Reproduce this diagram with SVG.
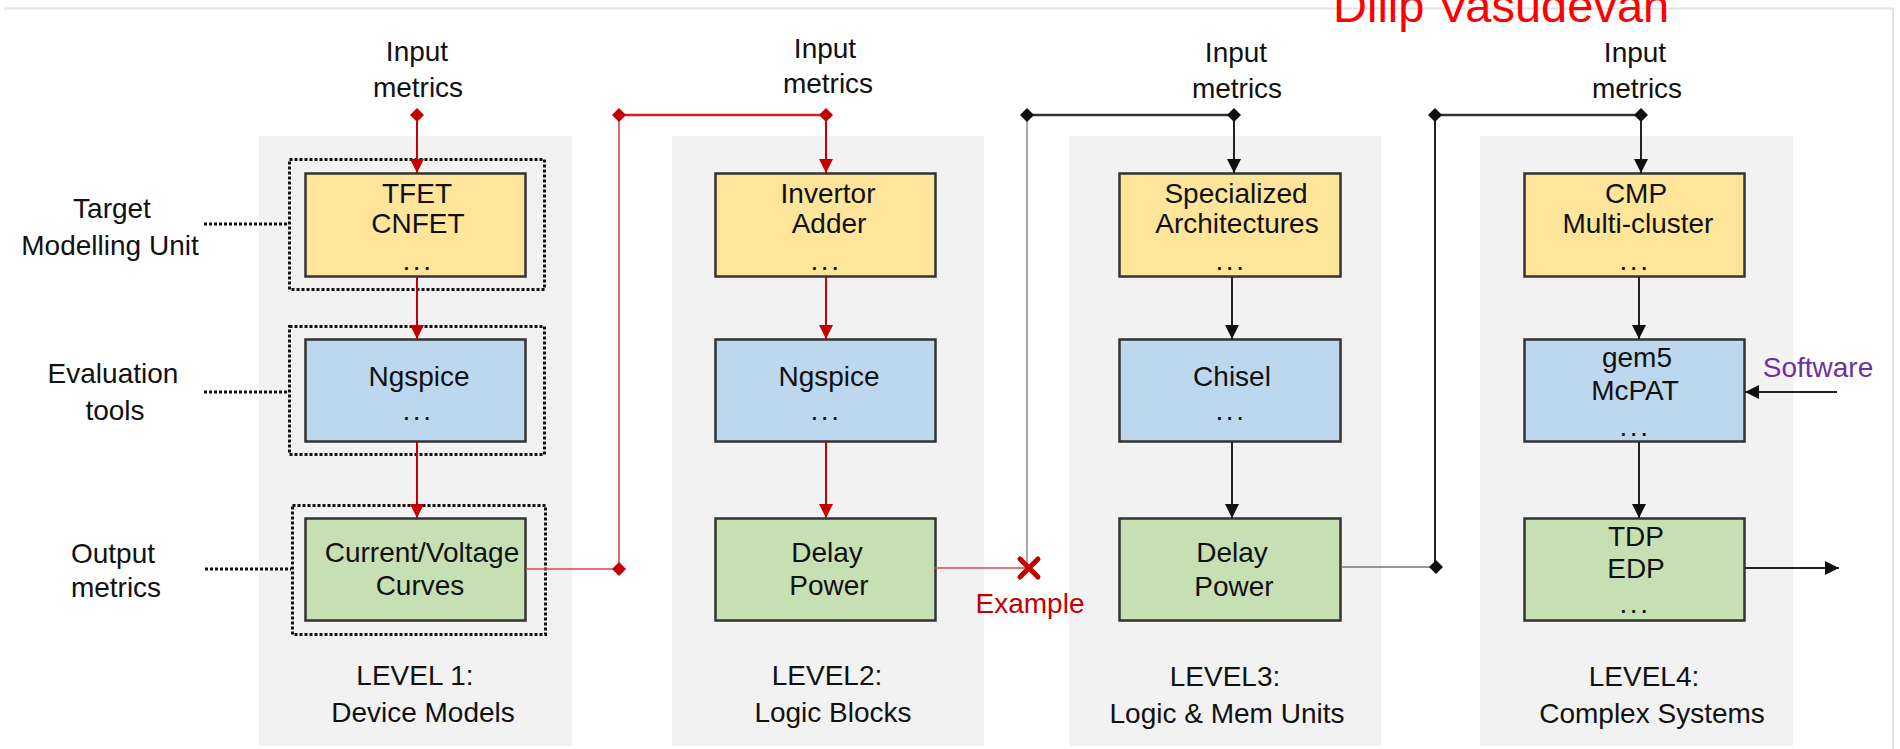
<svg xmlns="http://www.w3.org/2000/svg" xmlns:xlink="http://www.w3.org/1999/xlink" width="1900" height="749" viewBox="0 0 1900 749">
  <style>
    text { font-family: "Liberation Sans", Arial, Helvetica, sans-serif; font-size: 28px; fill: #111; text-anchor: middle; }
    .panel { fill: #f2f2f2; }
    .box { stroke: #333; stroke-width: 2.5; }
    .yellow { fill: #fee59a; }
    .blue { fill: #bdd7ee; }
    .green { fill: #c6e0b4; }
    .dotted { fill: none; stroke: #111; stroke-width: 3; stroke-dasharray: 3 2; }
    .dots { letter-spacing: 2.6px; }
    .red { stroke: #c40000; stroke-width: 2; fill: none; }
    .redthin { stroke: #d84a4a; stroke-width: 1.6; fill: none; }
    .blk { stroke: #222; stroke-width: 2; fill: none; }
    .gray { stroke: #aaa; stroke-width: 2; fill: none; }
    .graythin { stroke: #777; stroke-width: 1.6; fill: none; }
    .frame { stroke: #e4e4e4; stroke-width: 2; fill: none; }
  </style>
  <defs>
    <marker id="arrowRed" viewBox="0 0 10 10" refX="10" refY="5" markerWidth="14" markerHeight="14" markerUnits="userSpaceOnUse" orient="auto">
      <path d="M0,0 L10,5 L0,10 z" fill="#c40000"/>
    </marker>
    <marker id="arrowBlk" viewBox="0 0 10 10" refX="10" refY="5" markerWidth="14" markerHeight="14" markerUnits="userSpaceOnUse" orient="auto">
      <path d="M0,0 L10,5 L0,10 z" fill="#111"/>
    </marker>
    <path id="diamond" d="M-7,0 L0,-7 L7,0 L0,7 z"/>
  </defs>

  <rect width="1900" height="749" fill="#fff"/>
  <!-- page frame -->
  <path class="frame" d="M4,8.5 H1893 V749"/>

  <!-- level panels -->
  <g id="panel-level1"><rect class="panel" x="259" y="136" width="313" height="610"/></g>
  <g id="panel-level2"><rect class="panel" x="672" y="136" width="312" height="610"/></g>
  <g id="panel-level3"><rect class="panel" x="1069" y="136" width="312" height="610"/></g>
  <g id="panel-level4"><rect class="panel" x="1480" y="136" width="313" height="610"/></g>

  <!-- row labels -->
  <g id="label-target">
    <text x="112" y="218">Target</text>
    <text x="110" y="255">Modelling Unit</text>
  </g>
  <g id="label-evaluation">
    <text x="113" y="383">Evaluation</text>
    <text x="115" y="420">tools</text>
  </g>
  <g id="label-output">
    <text x="113" y="563">Output</text>
    <text x="116" y="597">metrics</text>
  </g>

  <!-- input metrics labels -->
  <g id="input-level1"><text x="417" y="61">Input</text><text x="418" y="97">metrics</text></g>
  <g id="input-level2"><text x="825" y="58">Input</text><text x="828" y="93">metrics</text></g>
  <g id="input-level3"><text x="1236" y="62">Input</text><text x="1237" y="98">metrics</text></g>
  <g id="input-level4"><text x="1635" y="62">Input</text><text x="1637" y="98">metrics</text></g>

  <!-- dotted groupings for level 1 -->
  <g id="groupings">
    <rect class="dotted" x="289.5" y="159.5" width="255" height="130"/>
    <rect class="dotted" x="289.5" y="326.5" width="255" height="128"/>
    <rect class="dotted" x="292.5" y="505.5" width="253" height="129"/>
    <path class="dotted" d="M204,224 H288 M204,392 H288 M205,569 H291"/>
  </g>

  <!-- LEVEL 1 -->
  <g id="l1-unit">
    <rect class="box yellow" x="305.5" y="173.5" width="220" height="103"/>
    <text x="417" y="203">TFET</text>
    <text x="418" y="233">CNFET</text>
    <text class="dots" x="418" y="270">...</text>
  </g>
  <g id="l1-tools">
    <rect class="box blue" x="305.5" y="339.5" width="220" height="102"/>
    <text x="419" y="386">Ngspice</text>
    <text class="dots" x="418" y="420">...</text>
  </g>
  <g id="l1-output">
    <rect class="box green" x="305.5" y="518.5" width="220" height="102"/>
    <text x="422" y="562">Current/Voltage</text>
    <text x="420" y="595">Curves</text>
  </g>
  <g id="l1-title">
    <text x="415" y="685">LEVEL 1:</text>
    <text x="423" y="722">Device Models</text>
  </g>

  <!-- LEVEL 2 -->
  <g id="l2-unit">
    <rect class="box yellow" x="715.5" y="173.5" width="220" height="103"/>
    <text x="828" y="203">Invertor</text>
    <text x="829" y="233">Adder</text>
    <text class="dots" x="826" y="270">...</text>
  </g>
  <g id="l2-tools">
    <rect class="box blue" x="715.5" y="339.5" width="220" height="102"/>
    <text x="829" y="386">Ngspice</text>
    <text class="dots" x="826" y="420">...</text>
  </g>
  <g id="l2-output">
    <rect class="box green" x="715.5" y="518.5" width="220" height="102"/>
    <text x="827" y="562">Delay</text>
    <text x="829" y="595">Power</text>
  </g>
  <g id="l2-title">
    <text x="827" y="685">LEVEL2:</text>
    <text x="833" y="722">Logic Blocks</text>
  </g>

  <!-- LEVEL 3 -->
  <g id="l3-unit">
    <rect class="box yellow" x="1119.5" y="173.5" width="221" height="103"/>
    <text x="1236" y="203">Specialized</text>
    <text x="1237" y="233">Architectures</text>
    <text class="dots" x="1231" y="270">...</text>
  </g>
  <g id="l3-tools">
    <rect class="box blue" x="1119.5" y="339.5" width="221" height="102"/>
    <text x="1232" y="386">Chisel</text>
    <text class="dots" x="1231" y="420">...</text>
  </g>
  <g id="l3-output">
    <rect class="box green" x="1119.5" y="518.5" width="221" height="102"/>
    <text x="1232" y="562">Delay</text>
    <text x="1234" y="596">Power</text>
  </g>
  <g id="l3-title">
    <text x="1225" y="686">LEVEL3:</text>
    <text x="1227" y="723">Logic &amp; Mem Units</text>
  </g>

  <!-- LEVEL 4 -->
  <g id="l4-unit">
    <rect class="box yellow" x="1524.5" y="173.5" width="220" height="103"/>
    <text x="1636" y="203">CMP</text>
    <text x="1638" y="233">Multi-cluster</text>
    <text class="dots" x="1635" y="270">...</text>
  </g>
  <g id="l4-tools">
    <rect class="box blue" x="1524.5" y="339.5" width="220" height="102"/>
    <text x="1637" y="367">gem5</text>
    <text x="1635" y="400">McPAT</text>
    <text class="dots" x="1635" y="436">...</text>
  </g>
  <g id="l4-output">
    <rect class="box green" x="1524.5" y="518.5" width="220" height="102"/>
    <text x="1636" y="546">TDP</text>
    <text x="1636" y="578">EDP</text>
    <text class="dots" x="1635" y="613">...</text>
  </g>
  <g id="l4-title">
    <text x="1644" y="686">LEVEL4:</text>
    <text x="1652" y="723">Complex Systems</text>
  </g>

  <!-- side labels -->
  <g id="software"><text x="1818" y="377" style="fill:#7030a0">Software</text></g>
  <g id="example"><text x="1030" y="613" style="fill:#c40000">Example</text></g>
  <g id="author"><text x="1333" y="22" style="fill:#ff0000;font-size:47px;text-anchor:start">Dilip Vasudevan</text></g>

  <!-- connectors -->
  <g id="connectors">
    <!-- level 1 chain -->
    <path class="red" d="M417,115 V173" marker-end="url(#arrowRed)"/>
    <path class="red" d="M417,277 V339" marker-end="url(#arrowRed)"/>
    <path class="red" d="M417,442 V518" marker-end="url(#arrowRed)"/>
    <!-- level 1 output feeds level 2 input -->
    <path class="redthin" d="M526,569 H619 V115"/>
    <path class="red" style="stroke-width:2.5;stroke:#d02020" d="M619,115 H826"/>
    <!-- level 2 chain -->
    <path class="red" d="M826,115 V173" marker-end="url(#arrowRed)"/>
    <path class="red" d="M826,277 V339" marker-end="url(#arrowRed)"/>
    <path class="red" d="M826,442 V518" marker-end="url(#arrowRed)"/>
    <!-- level 2 output to the example cross -->
    <path class="redthin" d="M935,568 H1028"/>
    <path class="gray" d="M1027,115 V566"/>
    <path d="M1020,559 L1038,577 M1038,559 L1020,577" stroke="#c40000" stroke-width="5" stroke-linecap="round" fill="none"/>
    <!-- level 3 chain -->
    <path class="blk" style="stroke-width:2.5;stroke:#333" d="M1027,115 H1234"/>
    <path class="blk" d="M1234,115 V173" marker-end="url(#arrowBlk)"/>
    <path class="blk" d="M1232,277 V339" marker-end="url(#arrowBlk)"/>
    <path class="blk" d="M1232,442 V518" marker-end="url(#arrowBlk)"/>
    <!-- level 3 output feeds level 4 input -->
    <path class="graythin" d="M1341,567 H1435"/>
    <path class="blk" d="M1435,567 V115"/>
    <path class="blk" style="stroke-width:2.5;stroke:#333" d="M1435,115 H1641"/>
    <!-- level 4 chain -->
    <path class="blk" d="M1641,115 V173" marker-end="url(#arrowBlk)"/>
    <path class="blk" d="M1639,277 V339" marker-end="url(#arrowBlk)"/>
    <path class="blk" d="M1639,442 V518" marker-end="url(#arrowBlk)"/>
    <path class="blk" d="M1837,392 H1745" marker-end="url(#arrowBlk)"/>
    <path class="blk" d="M1745,568 H1839" marker-end="url(#arrowBlk)"/>
    <!-- junction diamonds -->
    <use xlink:href="#diamond" x="417" y="115" fill="#c40000"/>
    <use xlink:href="#diamond" x="619" y="115" fill="#c40000"/>
    <use xlink:href="#diamond" x="826" y="115" fill="#c40000"/>
    <use xlink:href="#diamond" x="619" y="569" fill="#c40000"/>
    <use xlink:href="#diamond" x="1027" y="115" fill="#111"/>
    <use xlink:href="#diamond" x="1234" y="115" fill="#111"/>
    <use xlink:href="#diamond" x="1435" y="115" fill="#111"/>
    <use xlink:href="#diamond" x="1641" y="115" fill="#111"/>
    <use xlink:href="#diamond" x="1436" y="567" fill="#111"/>
  </g>
</svg>
